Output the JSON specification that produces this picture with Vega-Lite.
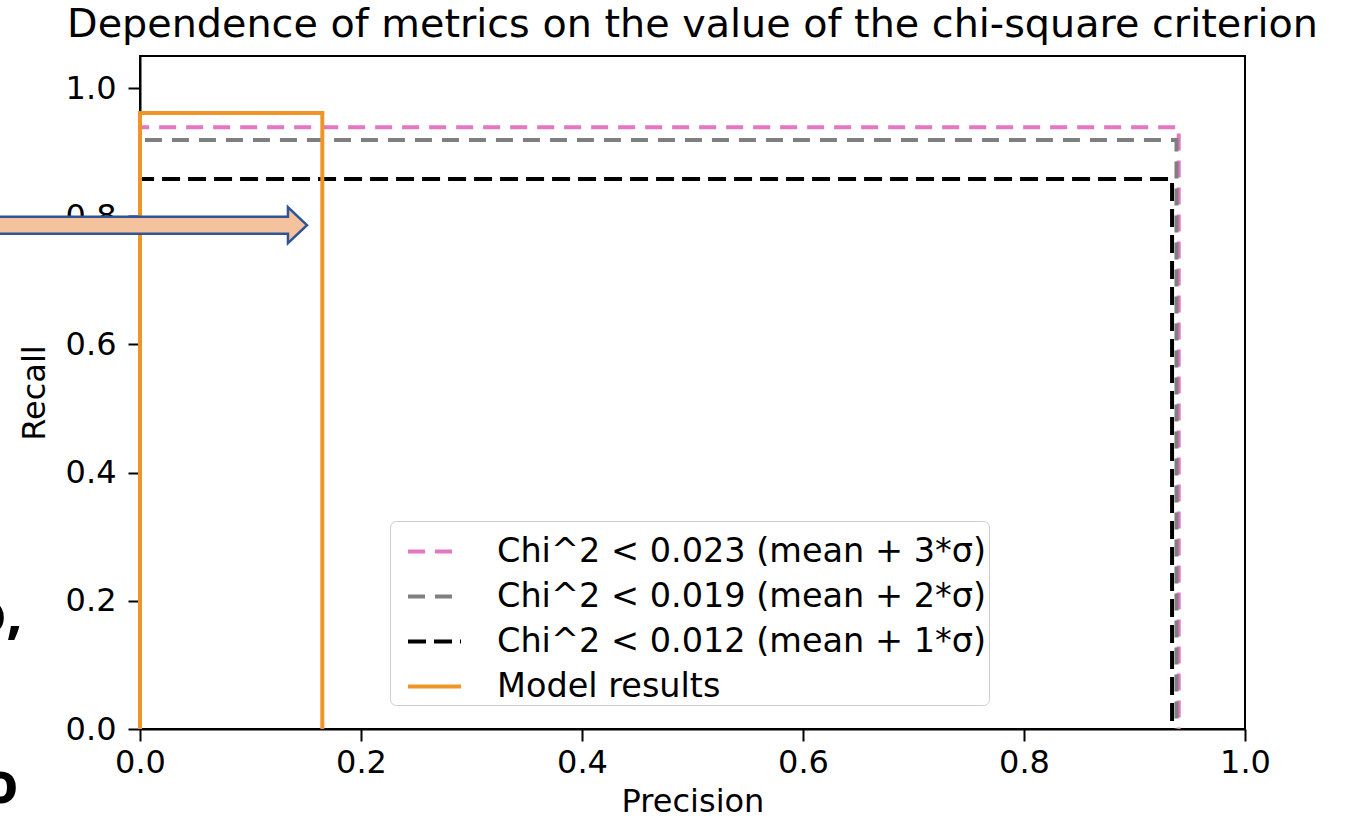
{
  "$schema": "https://vega.github.io/schema/vega-lite/v6.json",
  "autosize": "none",
  "width": 1105,
  "height": 673,
  "padding": {"left": 140, "top": 56, "right": 100, "bottom": 94},
  "background": "white",
  "title": {
    "text": "Dependence of metrics on the value of the chi-square criterion",
    "font": "DejaVu Sans",
    "fontSize": 39.7,
    "fontWeight": "normal",
    "color": "#000000",
    "anchor": "middle",
    "offset": 10
  },
  "config": {
    "view": {"stroke": "#000000", "strokeWidth": 2},
    "axis": {
      "domainColor": "#000000",
      "domainWidth": 2,
      "tickColor": "#000000",
      "tickWidth": 2,
      "tickSize": 12,
      "labelFont": "DejaVu Sans",
      "labelFontSize": 32,
      "labelColor": "#000000",
      "labelFlush": false,
      "titleFont": "DejaVu Sans",
      "titleFontSize": 32,
      "titleFontWeight": "normal",
      "titleColor": "#000000",
      "grid": false
    },
    "legend": {
      "labelFont": "DejaVu Sans",
      "labelFontSize": 33.5,
      "labelColor": "#000000",
      "labelLimit": 1000
    }
  },
  "datasets": {
    "curves": [
      {"series": "Chi^2 < 0.023 (mean + 3*σ)", "step": 1, "precision": 0.0, "recall": 0.0},
      {"series": "Chi^2 < 0.023 (mean + 3*σ)", "step": 2, "precision": 0.0, "recall": 0.939},
      {"series": "Chi^2 < 0.023 (mean + 3*σ)", "step": 3, "precision": 0.940, "recall": 0.939},
      {"series": "Chi^2 < 0.023 (mean + 3*σ)", "step": 4, "precision": 0.940, "recall": 0.0},
      {"series": "Chi^2 < 0.019 (mean + 2*σ)", "step": 1, "precision": 0.0, "recall": 0.0},
      {"series": "Chi^2 < 0.019 (mean + 2*σ)", "step": 2, "precision": 0.0, "recall": 0.919},
      {"series": "Chi^2 < 0.019 (mean + 2*σ)", "step": 3, "precision": 0.938, "recall": 0.919},
      {"series": "Chi^2 < 0.019 (mean + 2*σ)", "step": 4, "precision": 0.938, "recall": 0.0},
      {"series": "Chi^2 < 0.012 (mean + 1*σ)", "step": 1, "precision": 0.0, "recall": 0.0},
      {"series": "Chi^2 < 0.012 (mean + 1*σ)", "step": 2, "precision": 0.0, "recall": 0.858},
      {"series": "Chi^2 < 0.012 (mean + 1*σ)", "step": 3, "precision": 0.934, "recall": 0.858},
      {"series": "Chi^2 < 0.012 (mean + 1*σ)", "step": 4, "precision": 0.934, "recall": 0.0},
      {"series": "Model results", "step": 1, "precision": 0.0, "recall": 0.0},
      {"series": "Model results", "step": 2, "precision": 0.0, "recall": 0.961},
      {"series": "Model results", "step": 3, "precision": 0.165, "recall": 0.961},
      {"series": "Model results", "step": 4, "precision": 0.165, "recall": 0.0}
    ],
    "arrow": [
      {"precision": 0.0122, "recall": 0.786}
    ],
    "fragments": [
      {"label": "o,", "precision": -0.106, "recall": 0.150},
      {"label": "o", "precision": -0.110, "recall": -0.115}
    ]
  },
  "layer": [
    {
      "data": {"name": "curves"},
      "mark": {"type": "line", "strokeWidth": 4, "clip": false},
      "encoding": {
        "x": {
          "field": "precision", "type": "quantitative",
          "scale": {"domain": [0, 1], "nice": false, "zero": false},
          "axis": {"title": "Precision", "values": [0, 0.2, 0.4, 0.6, 0.8, 1.0], "format": ".1f", "labelPadding": 6, "titlePadding": 8}
        },
        "y": {
          "field": "recall", "type": "quantitative",
          "scale": {"domain": [0, 1.05], "nice": false, "zero": false},
          "axis": {"title": "Recall", "values": [0, 0.2, 0.4, 0.6, 0.8, 1.0], "format": ".1f", "labelPadding": 12, "titlePadding": 14}
        },
        "color": {
          "field": "series", "type": "nominal",
          "scale": {
            "domain": ["Chi^2 < 0.023 (mean + 3*σ)", "Chi^2 < 0.019 (mean + 2*σ)", "Chi^2 < 0.012 (mean + 1*σ)", "Model results"],
            "range": ["#e377c2", "#7f7f7f", "#000000", "#ef9527"]
          },
          "legend": {
            "title": null,
            "orient": "none",
            "legendX": 250,
            "legendY": 465,
            "symbolType": "stroke",
            "symbolSize": 2809,
            "symbolStrokeWidth": 4,
            "symbolOffset": 14,
            "rowPadding": -8,
            "padding": 2,
            "labelOffset": 34,
            "fillColor": "white",
            "strokeColor": "#cccccc",
            "cornerRadius": 6
          }
        },
        "strokeDash": {
          "field": "series", "type": "nominal",
          "scale": {
            "domain": ["Chi^2 < 0.023 (mean + 3*σ)", "Chi^2 < 0.019 (mean + 2*σ)", "Chi^2 < 0.012 (mean + 1*σ)", "Model results"],
            "range": [[17, 10], [17, 10], [18, 8], [1, 0]]
          },
          "legend": null
        },
        "order": {"field": "step", "type": "quantitative"}
      }
    },
    {
      "data": {"name": "arrow"},
      "mark": {
        "type": "point",
        "shape": "M-1.05,-0.0554 L0.876,-0.0554 L0.876,-0.117 L1,0 L0.876,0.117 L0.876,0.0554 L-1.05,0.0554 Z",
        "size": 94249,
        "filled": true,
        "fill": "#f5c29e",
        "fillOpacity": 1,
        "stroke": "#2f5597",
        "strokeWidth": 2.5,
        "opacity": 1,
        "clip": false
      },
      "encoding": {
        "x": {"field": "precision", "type": "quantitative"},
        "y": {"field": "recall", "type": "quantitative"}
      }
    },
    {
      "data": {"name": "fragments"},
      "mark": {
        "type": "text",
        "font": "Open Sans",
        "fontWeight": "bold",
        "fontSize": 58,
        "align": "right",
        "baseline": "alphabetic",
        "color": "#000000",
        "clip": false
      },
      "encoding": {
        "x": {"field": "precision", "type": "quantitative"},
        "y": {"field": "recall", "type": "quantitative"},
        "text": {"field": "label", "type": "nominal"}
      }
    }
  ]
}
